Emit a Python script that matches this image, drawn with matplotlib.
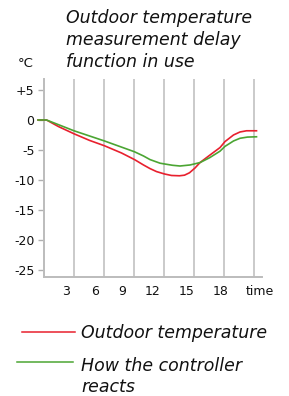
import matplotlib
matplotlib.use("Agg")
import matplotlib.pyplot as plt
from matplotlib.lines import Line2D

# data (hours, degrees C)
outdoor_t = [-0.55, 0.3, 1.5, 3.05, 4.6, 6.1, 7.8, 9.1, 10.0, 10.65, 11.3, 12.1, 12.8, 13.6, 14.1, 14.6, 15.15,
             15.65, 16.6, 17.65, 18.15, 19.0, 19.65, 20.3, 21.3]
outdoor_v = [0, 0, -1.1, -2.3, -3.4, -4.3, -5.5, -6.6, -7.5, -8.1, -8.6, -9.0, -9.25, -9.3, -9.2, -8.8, -8.0,
             -7.1, -5.9, -4.6, -3.6, -2.5, -2.0, -1.8, -1.8]

react_t = [-0.55, 0.3, 3.05, 6.1, 9.1, 10.0, 10.65, 11.65, 12.1, 12.9, 13.65, 14.65, 15.15, 15.65, 16.6,
           17.65, 18.15, 19.0, 19.65, 20.4, 21.3]
react_v = [0, 0, -1.8, -3.5, -5.3, -6.0, -6.6, -7.2, -7.33, -7.55, -7.67, -7.5, -7.3, -7.1, -6.3,
           -5.2, -4.4, -3.5, -3.05, -2.85, -2.8]

grid_hours = [3, 6, 9, 12, 15, 18, 21]
xlabel_pos = [2.3, 5.15, 7.9, 10.9, 14.3, 17.7, 21.65]
xlabels = ["3", "6", "9", "12", "15", "18", "time"]
yticks = [5, 0, -5, -10, -15, -20, -25]
ylabels = ["+5", "0", "-5", "-10", "-15", "-20", "-25"]

title_lines = ["Outdoor temperature", "measurement delay", "function in use"]
legend_red = "Outdoor temperature"
legend_green = ["How the controller", "reacts"]

RED = "#e8202e"
GREEN = "#4ba533"
GRID = "#cacaca"
TXT = "#111111"

plt.rcParams['font.family'] = ['DejaVu Sans']

W, H = 289, 396
fig = plt.figure(figsize=(W / 100, H / 100), dpi=100)
ax = fig.add_axes([43.5 / W, 1 - 277 / H, (261.7 - 43.5) / W, (277 - 79) / H])

ax.plot(outdoor_t, outdoor_v, color=RED, lw=1.2, clip_on=False, zorder=3, solid_joinstyle='round')
ax.plot(react_t, react_v, color=GREEN, lw=1.2, clip_on=False, zorder=3, solid_joinstyle='round')

ax.set_xlim(0, 21.82)
ax.set_ylim(-26.17, 6.83)

ax.set_xticks(grid_hours, minor=True)
ax.set_xticks(xlabel_pos)
ax.set_xticklabels(xlabels)
ax.tick_params(axis='x', which='both', length=0, pad=6, labelsize=9, labelcolor=TXT)
ax.grid(which='minor', axis='x', color=GRID, lw=1.4)
ax.grid(which='major', visible=False)

ax.set_yticks(yticks)
ax.set_yticklabels(ylabels)
ax.tick_params(axis='y', length=4, width=1, color="#b0b0b0", pad=2.5, labelsize=9, labelcolor=TXT)

for s in ['top', 'right']:
    ax.spines[s].set_visible(False)
for s in ['left', 'bottom']:
    ax.spines[s].set_color("#bcbcbc")
    ax.spines[s].set_linewidth(1.4)

# title, three italic lines
for i, line in enumerate(title_lines):
    fig.text(66 / W, 1 - (23.3 + 21.7 * i) / H, line, fontsize=12.5, style='italic',
             color=TXT, ha='left', va='baseline')
fig.text(18 / W, 1 - 66.7 / H, "°C", fontsize=9.5, color=TXT, ha='left', va='baseline')

# legend
fig.add_artist(Line2D([22 / W, 75 / W], [1 - 331.7 / H] * 2, color=RED, lw=1.1))
fig.add_artist(Line2D([17 / W, 73 / W], [1 - 361.7 / H] * 2, color=GREEN, lw=1.1))
fig.text(81 / W, 1 - 338.3 / H, legend_red, fontsize=12.5, style='italic',
         color=TXT, ha='left', va='baseline')
for i, line in enumerate(legend_green):
    fig.text(81 / W, 1 - (371.2 + 20.8 * i) / H, line, fontsize=12.5, style='italic',
             color=TXT, ha='left', va='baseline')

fig.savefig("out.png", dpi=100)
